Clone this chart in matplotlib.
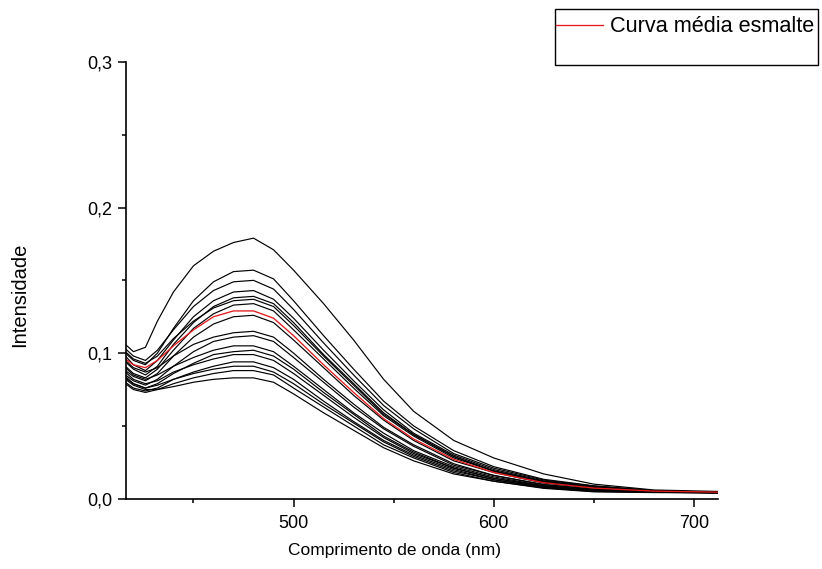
import matplotlib
matplotlib.use("Agg")
import matplotlib.pyplot as plt
from matplotlib.patches import Rectangle
from matplotlib.ticker import FixedLocator, FuncFormatter

plt.rcParams['font.family'] = ['Liberation Sans', 'DejaVu Sans']

wavelength = [416, 420, 426, 432, 440, 450, 460, 470, 480, 490, 500, 515,
              530, 545, 560, 580, 600, 625, 650, 680, 712]

samples = [
    [0.106, 0.101, 0.104, 0.122, 0.142, 0.160, 0.170, 0.176, 0.179, 0.171, 0.157, 0.134,
     0.109, 0.082, 0.060, 0.040, 0.028, 0.017, 0.0100, 0.0060, 0.0050],
    [0.100, 0.095, 0.092, 0.100, 0.117, 0.136, 0.149, 0.156, 0.157, 0.151, 0.136, 0.112,
     0.089, 0.067, 0.050, 0.033, 0.022, 0.0133, 0.0089, 0.0056, 0.0044],
    [0.103, 0.098, 0.095, 0.102, 0.116, 0.132, 0.143, 0.149, 0.150, 0.144, 0.130, 0.107,
     0.085, 0.064, 0.048, 0.031, 0.021, 0.0128, 0.0086, 0.0055, 0.0044],
    [0.098, 0.092, 0.088, 0.095, 0.109, 0.125, 0.136, 0.142, 0.143, 0.137, 0.124, 0.102,
     0.081, 0.061, 0.045, 0.030, 0.020, 0.0122, 0.0082, 0.0054, 0.0044],
    [0.094, 0.089, 0.085, 0.091, 0.106, 0.121, 0.132, 0.138, 0.139, 0.134, 0.121, 0.099,
     0.079, 0.059, 0.044, 0.029, 0.019, 0.0118, 0.0079, 0.0054, 0.0043],
    [0.101, 0.096, 0.093, 0.098, 0.110, 0.122, 0.131, 0.136, 0.137, 0.132, 0.119, 0.098,
     0.078, 0.058, 0.044, 0.029, 0.019, 0.0116, 0.0078, 0.0054, 0.0043],
    [0.091, 0.086, 0.083, 0.089, 0.102, 0.117, 0.127, 0.133, 0.134, 0.129, 0.116, 0.096,
     0.076, 0.057, 0.043, 0.028, 0.019, 0.0114, 0.0076, 0.0053, 0.0043],
    [0.088, 0.084, 0.081, 0.086, 0.098, 0.111, 0.120, 0.125, 0.126, 0.121, 0.109, 0.090,
     0.071, 0.054, 0.040, 0.026, 0.018, 0.0107, 0.0072, 0.0053, 0.0043],
    [0.095, 0.090, 0.087, 0.090, 0.098, 0.106, 0.111, 0.114, 0.115, 0.111, 0.100, 0.082,
     0.065, 0.049, 0.037, 0.024, 0.016, 0.0098, 0.0066, 0.0052, 0.0042],
    [0.085, 0.081, 0.078, 0.082, 0.091, 0.101, 0.108, 0.111, 0.112, 0.108, 0.097, 0.080,
     0.063, 0.048, 0.036, 0.023, 0.016, 0.0095, 0.0064, 0.0051, 0.0042],
    [0.090, 0.085, 0.082, 0.085, 0.091, 0.097, 0.102, 0.105, 0.105, 0.101, 0.091, 0.075,
     0.059, 0.045, 0.033, 0.022, 0.015, 0.0089, 0.0060, 0.0050, 0.0041],
    [0.083, 0.079, 0.076, 0.079, 0.086, 0.093, 0.099, 0.101, 0.102, 0.098, 0.089, 0.073,
     0.058, 0.043, 0.032, 0.021, 0.014, 0.0087, 0.0058, 0.0049, 0.0041],
    [0.087, 0.082, 0.079, 0.081, 0.087, 0.092, 0.096, 0.099, 0.099, 0.095, 0.086, 0.071,
     0.056, 0.042, 0.031, 0.021, 0.014, 0.0084, 0.0056, 0.0048, 0.0041],
    [0.080, 0.076, 0.074, 0.076, 0.082, 0.087, 0.091, 0.094, 0.094, 0.090, 0.082, 0.067,
     0.053, 0.040, 0.030, 0.020, 0.013, 0.0080, 0.0054, 0.0046, 0.0041],
    [0.084, 0.079, 0.076, 0.078, 0.082, 0.086, 0.089, 0.091, 0.091, 0.087, 0.079, 0.065,
     0.052, 0.039, 0.029, 0.019, 0.013, 0.0077, 0.0052, 0.0045, 0.0040],
    [0.079, 0.075, 0.073, 0.075, 0.079, 0.083, 0.086, 0.088, 0.088, 0.085, 0.076, 0.063,
     0.050, 0.037, 0.028, 0.018, 0.012, 0.0075, 0.0050, 0.0044, 0.0040],
    [0.082, 0.078, 0.075, 0.075, 0.077, 0.080, 0.082, 0.083, 0.083, 0.080, 0.072, 0.059,
     0.047, 0.035, 0.026, 0.017, 0.012, 0.0071, 0.0047, 0.0042, 0.0040],
]

mean_curve = [0.096, 0.092, 0.090, 0.095, 0.105, 0.116, 0.125, 0.129, 0.129, 0.124, 0.112,
              0.092, 0.073, 0.055, 0.041, 0.027, 0.018, 0.011, 0.0073, 0.0052, 0.0045]

legend_label = "Curva média esmalte"
x_label = "Comprimento de onda (nm)"
y_label = "Intensidade"
x_major = [500, 600, 700]
x_minor = [450, 550, 650]
y_major = [0.0, 0.1, 0.2, 0.3]
y_minor = [0.05, 0.15, 0.25]

W, H = 822, 569
fig = plt.figure(figsize=(W/100, H/100), dpi=100)
ax = fig.add_axes([126/W, 1-498.7/H, (718-126)/W, (498.7-62)/H])

for s in samples:
    ax.plot(wavelength, s, color='black', lw=0.85)
red_line, = ax.plot(wavelength, mean_curve, color='#e31a1c', lw=0.95)

ax.set_xlim(416.3, 712)
ax.set_ylim(0, 0.3)
for sp in ['top', 'right']:
    ax.spines[sp].set_visible(False)
for sp in ['left', 'bottom']:
    ax.spines[sp].set_linewidth(1.2)

ax.xaxis.set_major_locator(FixedLocator(x_major))
ax.xaxis.set_minor_locator(FixedLocator(x_minor))
ax.yaxis.set_major_locator(FixedLocator(y_major))
ax.yaxis.set_minor_locator(FixedLocator(y_minor))
ax.yaxis.set_major_formatter(FuncFormatter(lambda v, p: f"{v:.1f}".replace('.', ',')))
ax.tick_params(which='major', direction='out', length=6, width=1.1, labelsize=13, pad=4)
ax.tick_params(which='minor', direction='out', length=3, width=1.1)
ax.tick_params(axis='x', which='major', pad=6)

ax.set_xlabel(x_label, fontsize=12.5)
ax.xaxis.set_label_coords((394-126)/592, -(551-498.7)/436.7, transform=ax.transAxes)
ax.xaxis.label.set_va('center')
ax.set_ylabel(y_label, fontsize=14.5)
ax.yaxis.set_label_coords((20-126)/592, (498.7-295)/436.7, transform=ax.transAxes)
ax.yaxis.label.set_va('center')

# legend box (frame drawn as a figure rectangle, entry as a real legend)
fig.patches.append(Rectangle((555/W, 1-65/H), (818-555)/W, (65-9)/H,
                             transform=fig.transFigure, fill=False,
                             edgecolor='black', linewidth=1.0))
leg = fig.legend(handles=[red_line], labels=[legend_label],
                 loc='center left', bbox_to_anchor=(556/W, 1-27/H),
                 frameon=False, fontsize=15.6,
                 handlelength=2.15, handletextpad=0.33, borderpad=0.0,
                 borderaxespad=0)

fig.savefig("out.png", dpi=100)
